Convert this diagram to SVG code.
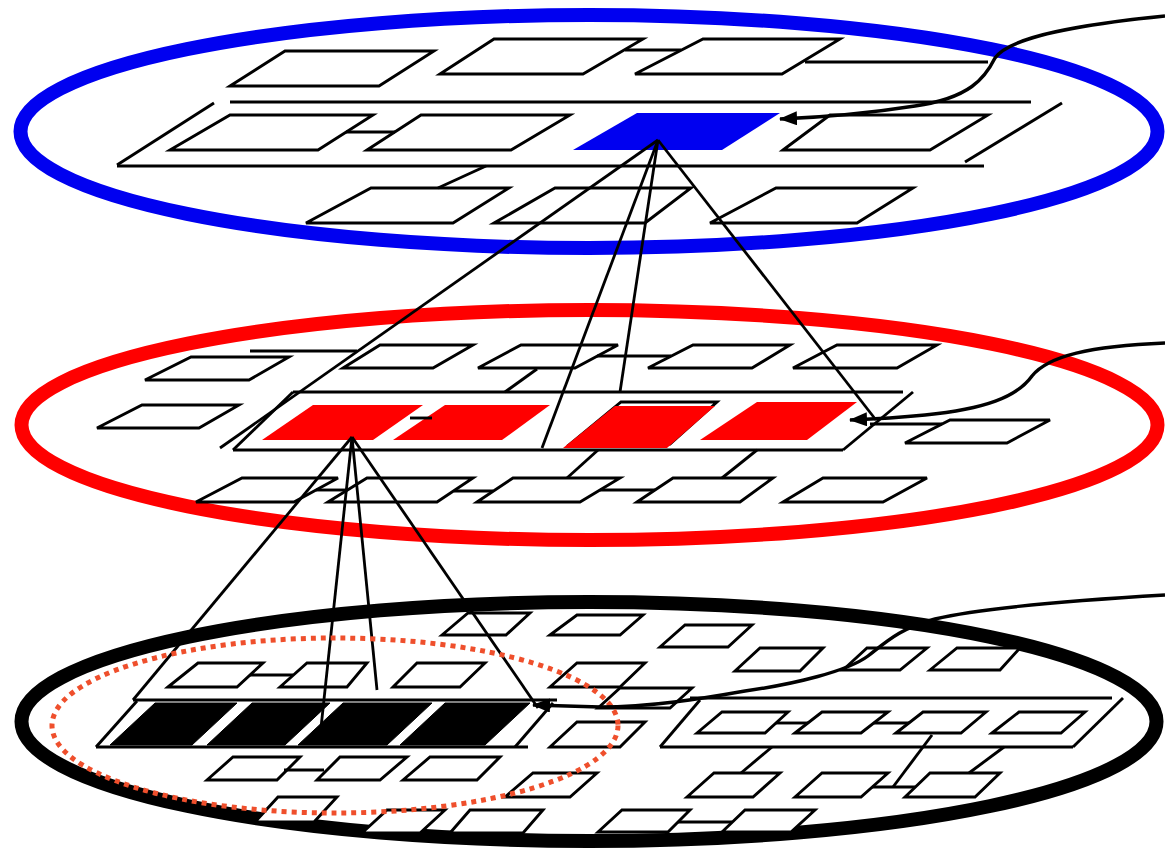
<svg xmlns="http://www.w3.org/2000/svg" width="1165" height="855" viewBox="0 0 1165 855">
<defs>
<style>
.bx{fill:#fff;stroke:#000;stroke-width:2.9;stroke-linejoin:miter}
.ln{fill:none;stroke:#000;stroke-width:2.9}
.ap{fill:none;stroke:#000;stroke-width:2.8}
.ring{fill:none;stroke-width:14}
.cv{fill:none;stroke:#000;stroke-width:3.4;marker-end:url(#arr)}
.blk{fill:#000;stroke:#000;stroke-width:1}
.red{fill:#f00;stroke:none}
</style>
<marker id="arr" viewBox="0 0 18 14" refX="17" refY="7" markerWidth="18" markerHeight="14" markerUnits="userSpaceOnUse" orient="auto">
<path d="M0,0 L18,7 L0,14 z" fill="#000"/>
</marker>
</defs>
<rect width="1165" height="855" fill="#fff"/>

<g id="rings">
<ellipse id="ring-blue" class="ring" cx="589" cy="131.5" rx="568.5" ry="116.5" stroke="#0000f0"/>
<ellipse id="ring-red" class="ring" cx="589.5" cy="425" rx="568" ry="115" stroke="#f00"/>
<ellipse id="ring-black" class="ring" cx="589" cy="721.5" rx="567.5" ry="119.5" stroke="#000" stroke-width="15"/>
</g>

<g id="layer-blue">
<g id="b1"><polygon class="bx" points="230,86 285,51 434,51 379,86"/></g>
<g id="b2"><polygon class="bx" points="440,74 494,39 643,39 583,74"/></g>
<g id="b3"><polygon class="bx" points="635,74 703,39 840,39 782,74"/></g>
<g id="b4"><polygon class="bx" points="170,150 230,115 373,115 318,150"/></g>
<g id="b5"><polygon class="bx" points="367,150 421,115 570,115 511,150"/></g>
<g id="b6"><polygon points="573,150 637,113 780,113 722,150" fill="#0000f0"/></g>
<g id="b7"><polygon class="bx" points="783,150 830,115 988,115 930,150"/></g>
<g id="b8"><polygon class="bx" points="306,223 371,188 509,188 453,223"/></g>
<g id="b9"><polygon class="bx" points="494,223 555,188 691,188 645,223"/></g>
<g id="b10"><polygon class="bx" points="710,223 776,188 913,188 857,223"/></g>
</g>

<g id="layer-red">
<g id="m1"><polygon class="bx" points="145,380 191,357 289,357 249,380"/></g>
<g id="m2"><polygon class="bx" points="343,368 380,345 473,345 433,368"/></g>
<g id="m3"><polygon class="bx" points="478,368 521,345 618,345 575,368"/></g>
<g id="m4"><polygon class="bx" points="648,368 693,345 790,345 752,368"/></g>
<g id="m5"><polygon class="bx" points="793,368 837,345 937,345 897,368"/></g>
<g id="m6"><polygon class="bx" points="97,428 142,405 239,405 199,428"/></g>
<g id="m7"><polygon class="bx" points="905,443 950,420 1050,420 1007,443"/></g>
<g id="r1"><polygon class="red" points="262,440 313,405 423,405 373,440"/></g>
<g id="r2"><polygon class="red" points="393,440 445,405 550,405 502,440"/></g>
<g id="r3"><polygon class="bx" points="570,444 621,402 717,402 670,444"/><polygon class="red" points="563,448 615,406 715,406 667,448"/></g>
<g id="r4"><polygon class="red" points="700,440 757,402 857,402 807,440"/></g>
<g id="m8"><polygon class="bx" points="196,502 242,478 338,478 294,502"/></g>
<g id="m9"><polygon class="bx" points="328,502 367,478 473,478 437,502"/></g>
<g id="m10"><polygon class="bx" points="477,502 513,478 620,478 580,502"/></g>
<g id="m11"><polygon class="bx" points="637,502 673,478 773,478 740,502"/></g>
<g id="m12"><polygon class="bx" points="783,502 823,478 927,478 883,502"/></g>
</g>

<g id="layer-black">
<g id="t1"><polygon class="bx" points="442,635 468,613 530,613 506,635"/></g>
<g id="t2"><polygon class="bx" points="550,635 577,615 643,615 620,635"/></g>
<g id="t3"><polygon class="bx" points="660,647 685,625 752,625 728,647"/></g>
<g id="f4"><polygon class="bx" points="735,671 760,648 823,648 800,671"/></g>
<g id="f5"><polygon class="bx" points="843,670 867,648 927,648 900,670"/></g>
<g id="f6"><polygon class="bx" points="930,670 957,648 1020,648 1000,670"/></g>
<g id="a1"><polygon class="bx" points="168,687 198,663 263,663 237,687"/></g>
<g id="a2"><polygon class="bx" points="280,687 307,663 367,663 347,687"/></g>
<g id="a3"><polygon class="bx" points="393,687 417,663 485,663 460,687"/></g>
<g id="t4"><polygon class="bx" points="550,687 577,663 645,663 620,687"/></g>
<g id="t5"><polygon class="bx" points="598,708 620,688 692,688 670,708"/></g>
<g id="k1"><polygon class="blk" points="110,745 155,703 237,703 192,745"/></g>
<g id="k2"><polygon class="blk" points="207,745 252,703 330,703 285,745"/></g>
<g id="k3"><polygon class="blk" points="298,745 343,703 432,703 387,745"/></g>
<g id="k4"><polygon class="blk" points="400,745 445,703 530,703 485,745"/></g>
<g id="g1"><polygon class="bx" points="697,733 722,712 788,712 765,733"/></g>
<g id="g2"><polygon class="bx" points="795,733 822,712 888,712 861,733"/></g>
<g id="g3"><polygon class="bx" points="896,733 923,712 986,712 961,733"/></g>
<g id="g4"><polygon class="bx" points="992,733 1019,712 1085,712 1061,733"/></g>
<g id="t6"><polygon class="bx" points="550,747 577,722 645,722 620,747"/></g>
<g id="d1"><polygon class="bx" points="207,780 233,757 300,757 277,780"/></g>
<g id="d2"><polygon class="bx" points="317,780 340,757 407,757 380,780"/></g>
<g id="d3"><polygon class="bx" points="403,780 430,757 500,757 477,780"/></g>
<g id="t7"><polygon class="bx" points="505,797 533,773 597,773 570,797"/></g>
<g id="h1"><polygon class="bx" points="687,797 714,773 780,773 753,797"/></g>
<g id="h2"><polygon class="bx" points="795,797 822,773 888,773 861,797"/></g>
<g id="h3"><polygon class="bx" points="905,797 930,773 1000,773 975,797"/></g>
<g id="e1"><polygon class="bx" points="255,822 278,797 337,797 314,822"/></g>
<g id="e2"><polygon class="bx" points="362,833 387,810 445,810 420,833"/></g>
<g id="e3"><polygon class="bx" points="450,833 470,810 543,810 523,833"/></g>
<g id="i1"><polygon class="bx" points="598,832 622,810 690,810 668,832"/></g>
<g id="i2"><polygon class="bx" points="722,832 745,810 815,810 791,832"/></g>
</g>

<g id="connectors">
<line class="ln" x1="625" y1="50" x2="681" y2="50"/>
<line class="ln" x1="805" y1="62" x2="988" y2="62"/>
<line class="ln" x1="230" y1="102" x2="1031" y2="102"/>
<line class="ln" x1="214" y1="103" x2="117" y2="165"/>
<line class="ln" x1="117" y1="166" x2="984" y2="166"/>
<line class="ln" x1="1062" y1="103" x2="965" y2="162"/>
<line class="ln" x1="346" y1="132" x2="395" y2="132"/>
<line class="ln" x1="486" y1="166" x2="438" y2="188"/>
<line class="ln" x1="293" y1="392" x2="903" y2="392"/>
<line class="ln" x1="233" y1="450" x2="843" y2="450"/>
<line class="ln" x1="233" y1="450" x2="293" y2="392"/>
<line class="ln" x1="843" y1="450" x2="913" y2="392"/>
<line class="ln" x1="250" y1="351" x2="357" y2="351"/>
<line class="ln" x1="537" y1="369" x2="505" y2="392"/>
<line class="ln" x1="597" y1="356" x2="671" y2="356"/>
<line class="ln" x1="410" y1="418" x2="432" y2="418"/>
<line class="ln" x1="870" y1="424" x2="942" y2="424"/>
<line class="ln" x1="598" y1="450" x2="567" y2="478"/>
<line class="ln" x1="757" y1="450" x2="722" y2="478"/>
<line class="ln" x1="316" y1="490" x2="347" y2="490"/>
<line class="ln" x1="454" y1="491" x2="493" y2="491"/>
<line class="ln" x1="600" y1="490" x2="655" y2="490"/>
<line class="ln" x1="133" y1="700" x2="557" y2="700"/>
<line class="ln" x1="96" y1="747" x2="528" y2="747"/>
<line class="ln" x1="96" y1="747" x2="137" y2="701"/>
<line class="ln" x1="515" y1="747" x2="553" y2="703"/>
<line class="ln" x1="690" y1="698" x2="1112" y2="698"/>
<line class="ln" x1="660" y1="747" x2="1073" y2="747"/>
<line class="ln" x1="660" y1="747" x2="700" y2="700"/>
<line class="ln" x1="1073" y1="747" x2="1123" y2="698"/>
<line class="ln" x1="250" y1="675" x2="293" y2="675"/>
<line class="ln" x1="284" y1="770" x2="324" y2="770"/>
<line class="ln" x1="776" y1="723" x2="808" y2="723"/>
<line class="ln" x1="874" y1="723" x2="909" y2="723"/>
<line class="ln" x1="772" y1="747" x2="741" y2="773"/>
<line class="ln" x1="932" y1="735" x2="893" y2="787"/>
<line class="ln" x1="1004" y1="747" x2="969" y2="773"/>
<line class="ln" x1="872" y1="787" x2="915" y2="787"/>
<line class="ln" x1="678" y1="822" x2="732" y2="822"/>
<line class="ap" x1="658" y1="140" x2="220" y2="448"/>
<line class="ap" x1="658" y1="140" x2="542" y2="448"/>
<line class="ap" x1="658" y1="140" x2="620" y2="392"/>
<line class="ap" x1="658" y1="140" x2="876" y2="420"/>
<line class="ap" x1="352" y1="437" x2="133" y2="700"/>
<line class="ap" x1="352" y1="437" x2="320" y2="737"/>
<line class="ap" x1="352" y1="437" x2="377" y2="690"/>
<line class="ap" x1="352" y1="437" x2="538" y2="708"/>
</g>

<g id="focus-region">
<ellipse cx="335" cy="725.5" rx="283" ry="87.5" fill="none" stroke="#ef4f2c" stroke-width="5" stroke-dasharray="5 5"/>
</g>

<g id="pointers">
<path class="cv" d="M1165,16 C1085,24 1010,36 995,58 C985,78 970,98 915,106 C870,113 830,117 780,119"/>
<path class="cv" d="M1165,343 C1090,346 1048,356 1032,376 C1017,397 985,409 925,415 C895,418 875,419 850,420"/>
<path class="cv" d="M1165,595 C1080,600 985,607 935,619 C900,628 885,643 868,656 C848,671 795,684 745,691 C700,699 650,707 600,707 L533,705"/>
</g>
</svg>
